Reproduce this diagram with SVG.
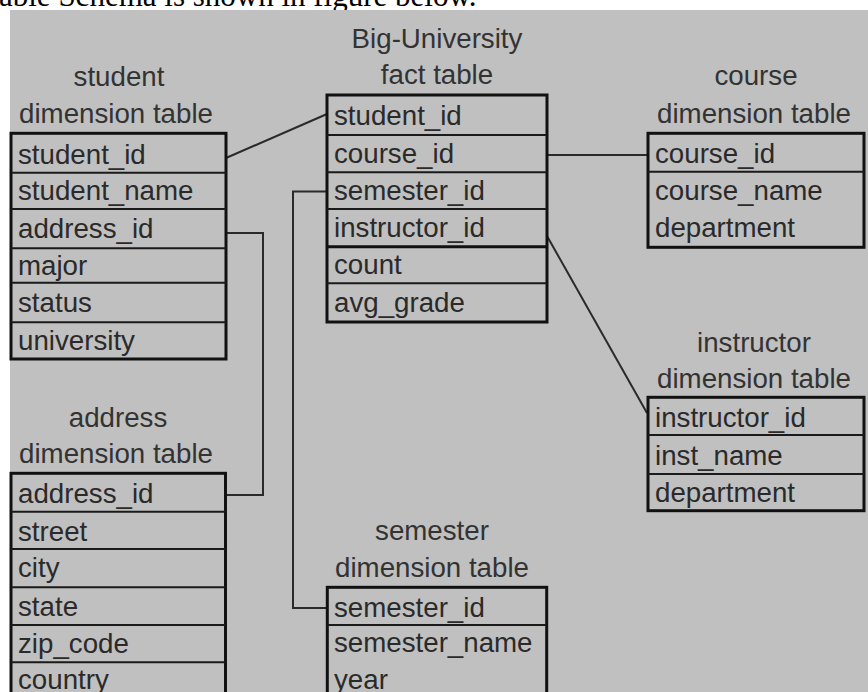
<svg xmlns="http://www.w3.org/2000/svg" width="868" height="692" viewBox="0 0 868 692">
  <style>
    .caption { font-family: "Liberation Serif", "Times New Roman", serif; font-size: 31px; fill: #000; }
    .title { font-family: "Liberation Sans", Arial, sans-serif; font-size: 27.7px; fill: #333; text-anchor: middle; }
    .field { font-family: "Liberation Sans", Arial, sans-serif; font-size: 27.7px; fill: #2a2a2a; }
    .box { fill: none; stroke: #111; stroke-width: 3; }
    .row { stroke: #1a1a1a; stroke-width: 2; }
    .sep { stroke: #111; stroke-width: 3; }
    .link { fill: none; stroke: #2a2a2a; stroke-width: 2; }
  </style>

  <!-- page background and caption line above the figure -->
  <rect x="0" y="0" width="868" height="692" fill="#ffffff"/>
  <text class="caption" x="-1" y="6">able Schema is shown in figure below.</text>
  <rect x="10" y="10" width="858" height="682" fill="#c0c0c0"/>

  <!-- foreign-key connectors -->
  <g id="connectors">
    <line class="link" x1="226" y1="158" x2="327" y2="114"/>
    <polyline class="link" points="226,233 263,233 263,495 226,495"/>
    <polyline class="link" points="327,191.5 293,191.5 293,608 327,608"/>
    <line class="link" x1="547" y1="155" x2="648" y2="155"/>
    <line class="link" x1="547" y1="236" x2="647" y2="413"/>
  </g>

  <!-- fact table -->
  <g id="fact">
    <text class="title" x="437" y="48">Big-University</text>
    <text class="title" x="437" y="84">fact table</text>
    <rect class="box" x="327" y="95" width="220" height="227"/>
    <line class="row" x1="327" y1="135" x2="547" y2="135"/>
    <line class="row" x1="327" y1="172.3" x2="547" y2="172.3"/>
    <line class="row" x1="327" y1="209" x2="547" y2="209"/>
    <line class="sep" x1="327" y1="246.7" x2="547" y2="246.7"/>
    <line class="row" x1="327" y1="283.3" x2="547" y2="283.3"/>
    <text class="field" x="334" y="125">student_id</text>
    <text class="field" x="334" y="163">course_id</text>
    <text class="field" x="334" y="200">semester_id</text>
    <text class="field" x="334" y="237">instructor_id</text>
    <text class="field" x="334" y="274">count</text>
    <text class="field" x="334" y="312">avg_grade</text>
  </g>

  <!-- student dimension -->
  <g id="student">
    <text class="title" x="119" y="86">student</text>
    <text class="title" x="116" y="123">dimension table</text>
    <rect class="box" x="11" y="133.3" width="215" height="225.7"/>
    <line class="row" x1="11" y1="172.7" x2="226" y2="172.7"/>
    <line class="row" x1="11" y1="209" x2="226" y2="209"/>
    <line class="row" x1="11" y1="248.3" x2="226" y2="248.3"/>
    <line class="row" x1="11" y1="282.7" x2="226" y2="282.7"/>
    <line class="row" x1="11" y1="322.3" x2="226" y2="322.3"/>
    <text class="field" x="18" y="164">student_id</text>
    <text class="field" x="18" y="200">student_name</text>
    <text class="field" x="18" y="238">address_id</text>
    <text class="field" x="18" y="275">major</text>
    <text class="field" x="18" y="312">status</text>
    <text class="field" x="18" y="350">university</text>
  </g>

  <!-- course dimension -->
  <g id="course">
    <text class="title" x="756" y="85">course</text>
    <text class="title" x="754" y="123">dimension table</text>
    <rect class="box" x="648" y="133.3" width="216" height="114"/>
    <line class="row" x1="648" y1="171.7" x2="864" y2="171.7"/>
    <text class="field" x="655" y="163">course_id</text>
    <text class="field" x="655" y="200">course_name</text>
    <text class="field" x="655" y="236.5">department</text>
  </g>

  <!-- instructor dimension -->
  <g id="instructor">
    <text class="title" x="754" y="351.7">instructor</text>
    <text class="title" x="754" y="388">dimension table</text>
    <rect class="box" x="648" y="397.3" width="216" height="113.4"/>
    <line class="row" x1="648" y1="435" x2="864" y2="435"/>
    <line class="row" x1="648" y1="474" x2="864" y2="474"/>
    <text class="field" x="655" y="426.5">instructor_id</text>
    <text class="field" x="655" y="465">inst_name</text>
    <text class="field" x="655" y="501.5">department</text>
  </g>

  <!-- address dimension -->
  <g id="address">
    <text class="title" x="118" y="426.7">address</text>
    <text class="title" x="116" y="463.3">dimension table</text>
    <rect class="box" x="11" y="473.3" width="214.5" height="260"/>
    <line class="row" x1="11" y1="511.7" x2="225.5" y2="511.7"/>
    <line class="row" x1="11" y1="549" x2="225.5" y2="549"/>
    <line class="row" x1="11" y1="587.3" x2="225.5" y2="587.3"/>
    <line class="row" x1="11" y1="625" x2="225.5" y2="625"/>
    <line class="row" x1="11" y1="662.3" x2="225.5" y2="662.3"/>
    <text class="field" x="18" y="503">address_id</text>
    <text class="field" x="18" y="540.5">street</text>
    <text class="field" x="18" y="577">city</text>
    <text class="field" x="18" y="616">state</text>
    <text class="field" x="18" y="653">zip_code</text>
    <text class="field" x="18" y="688.5">country</text>
  </g>

  <!-- semester dimension -->
  <g id="semester">
    <text class="title" x="432" y="540">semester</text>
    <text class="title" x="432" y="577.3">dimension table</text>
    <rect class="box" x="327.3" y="587.3" width="219.4" height="140"/>
    <line class="row" x1="327.3" y1="625" x2="546.7" y2="625"/>
    <text class="field" x="334" y="616.5">semester_id</text>
    <text class="field" x="334" y="651.7">semester_name</text>
    <text class="field" x="334" y="688.5">year</text>
  </g>
</svg>
